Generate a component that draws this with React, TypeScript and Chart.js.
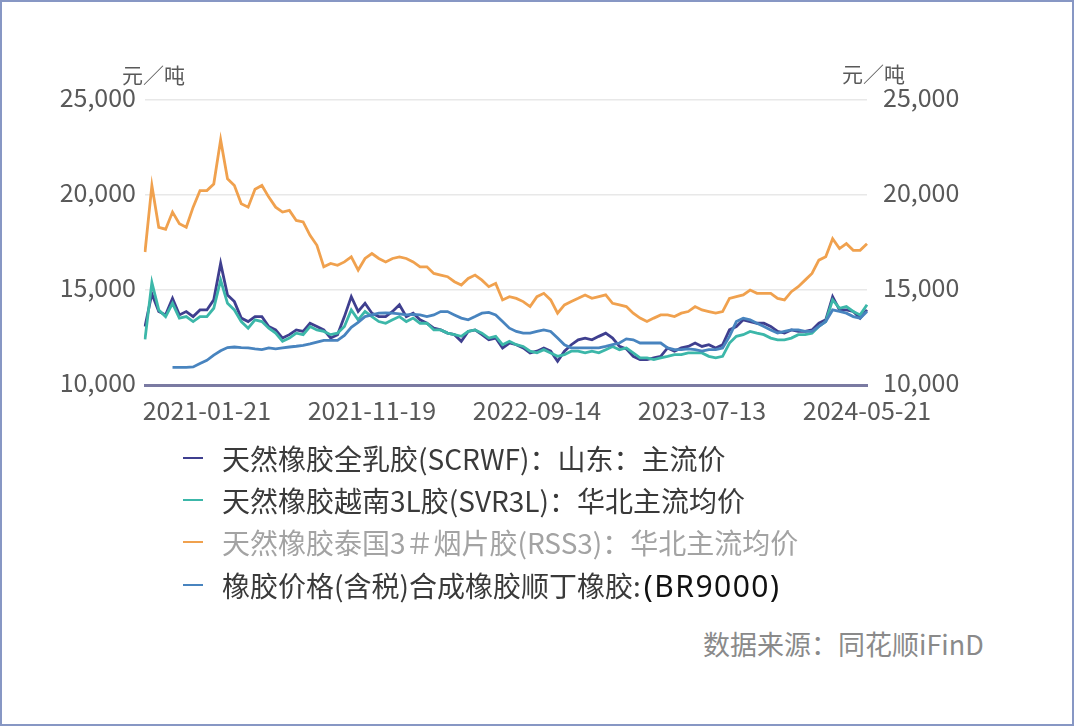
import React, { useEffect, useRef } from "react";
import { Chart, registerables } from "chart.js";

Chart.register(...registerables);

const tickLabels = ["2021-01-21", "2021-11-19", "2022-09-14", "2023-07-13", "2024-05-21"];
const tickIndex = [9, 33, 57, 81, 105];
const POINTS = 106;

const scrwf = [
  13080, 14800, 13870, 13690, 14560, 13690, 13865, 13600, 13950, 13950,
  14480, 16400, 14740, 14390, 13520, 13340, 13600, 13600, 13080, 12900,
  12470, 12650, 12900, 12820, 13250, 13080, 12900, 12470, 12650, 13600,
  14650, 13870, 14300, 13780, 13600, 13600, 13870, 14220, 13600, 13780,
  13430, 13250, 12990, 12900, 12730, 12650, 12300, 12820, 12900, 12650,
  12380, 12470, 11950, 12210, 12120, 11950, 11690, 11780, 11950, 11780,
  11250, 11780, 12120, 12380, 12470, 12380, 12560, 12730, 12470, 12030,
  11900, 11510, 11340, 11340, 11430, 11510, 11950, 11780, 11950, 12030,
  12210, 12030, 12120, 11950, 12120, 12900, 13080, 13430, 13340, 13250,
  13250, 13080, 12820, 12730, 12900, 12820, 12820, 12900, 13250, 13430,
  14650, 13950, 13950, 13870, 13520, 13950,
];

const svr3l = [
  12400, 15400, 13950, 13600, 14300, 13520, 13600, 13340, 13600, 13600,
  14040, 15520, 14300, 13950, 13340, 12990, 13430, 13340, 12990, 12730,
  12300, 12470, 12730, 12650, 13080, 12900, 12820, 12650, 12730, 13080,
  13950, 13430, 13870, 13600, 13340, 13250, 13430, 13600, 13340, 13520,
  13250, 13250, 12900, 12900, 12730, 12650, 12560, 12820, 12900, 12730,
  12470, 12560, 12120, 12300, 12120, 12030, 11780, 11690, 11860, 11690,
  11510, 11600, 11780, 11780, 11690, 11780, 11690, 11860, 12030, 11860,
  11950, 11690, 11430, 11430, 11340, 11430, 11510, 11600, 11600, 11690,
  11690, 11690, 11510, 11430, 11510, 12210, 12560, 12650, 12820, 12730,
  12650, 12470, 12380, 12380, 12470, 12650, 12650, 12730, 13080, 13340,
  14480, 14040, 14130, 13870, 13690, 14220,
];

const rss3 = [
  17000, 20500, 18300, 18200, 19100, 18490, 18300, 19360, 20235, 20235,
  20580, 22900, 20850, 20500, 19540, 19360, 20300, 20500, 19890, 19360,
  19100, 19190, 18660, 18580, 17880, 17355, 16220, 16400, 16300, 16480,
  16745, 16050, 16660, 16920, 16660, 16480, 16660, 16745, 16660, 16480,
  16220, 16220, 15870, 15785, 15700, 15436, 15260, 15610, 15785, 15520,
  15175, 15350, 14476, 14650, 14560, 14390, 14130, 14650, 14825, 14476,
  13780, 14215, 14390, 14560, 14740, 14560, 14650, 14740, 14300, 14215,
  14130, 13780, 13520, 13340, 13520, 13690, 13690, 13600, 13780, 13865,
  14130, 13950, 13865, 13780, 13865, 14560, 14650, 14740, 15000, 14825,
  14825, 14825, 14560, 14476, 14910, 15175, 15520, 15870, 16570, 16745,
  17700, 17180, 17440, 17090, 17090, 17440,
];

const br9000 = [
  null, null, null, null, 10930, 10930, 10930, 10950, 11130, 11300,
  11570, 11800, 11970, 12000, 11970, 11950, 11900, 11860, 11950, 11900,
  11950, 12000, 12040, 12090, 12170, 12260, 12350, 12350, 12350, 12610,
  13040, 13300, 13600, 13690, 13780, 13800, 13780, 13740, 13690, 13720,
  13690, 13600, 13690, 13865, 13865, 13690, 13520, 13430, 13600, 13780,
  13820, 13690, 13340, 12990, 12820, 12730, 12730, 12820, 12900, 12820,
  12470, 12120, 11950, 11950, 11950, 11950, 11950, 12030, 12120, 12210,
  12430, 12380, 12210, 12210, 12210, 12210, 11950, 11860, 11860, 11900,
  11860, 11780, 11860, 11860, 11950, 12560, 13340, 13520, 13430, 13250,
  13080, 12900, 12730, 12820, 12900, 12900, 12820, 12820, 13080, 13340,
  13950, 13870, 13780, 13600, 13520, 13870,
];

const seriesNames = [
  "天然橡胶全乳胶(SCRWF)：山东：主流价",
  "天然橡胶越南3L胶(SVR3L)：华北主流均价",
  "天然橡胶泰国3＃烟片胶(RSS3)：华北主流均价",
  "橡胶价格(含税)合成橡胶顺丁橡胶:",
];
const seriesColors = ["#3f3f8f", "#3cb7a9", "#f0a14e", "#4884bf"];

const FONT = "'Noto Sans CJK SC', 'Noto Sans', sans-serif";

export default function App() {
  const ref = useRef<HTMLCanvasElement | null>(null);

  useEffect(() => {
    document.body.style.margin = "0";
    const labels = Array.from({ length: POINTS }, (_, i) => {
      const k = tickIndex.indexOf(i);
      return k >= 0 ? tickLabels[k] : "";
    });
    const chart = new Chart(ref.current as HTMLCanvasElement, {
      type: "line",
      data: {
        labels,
        datasets: [
          { label: seriesNames[0], data: scrwf, borderColor: seriesColors[0], order: 2 },
          { label: seriesNames[1], data: svr3l, borderColor: seriesColors[1], order: 1 },
          { label: seriesNames[2], data: rss3, borderColor: seriesColors[2], order: 3 },
          { label: seriesNames[3], data: br9000 as any, borderColor: seriesColors[3], order: 0 },
        ].map((d) => ({ ...d, borderWidth: 2.8, pointRadius: 0, tension: 0, fill: false, spanGaps: false })),
      },
      options: {
        animation: false,
        responsive: false,
        devicePixelRatio: 1,
        layout: { padding: { top: 100, left: 0, right: 0, bottom: 0 } },
        plugins: { legend: { display: false }, tooltip: { enabled: false } },
        scales: {
          x: {
            type: "category",
            offset: false,
            grid: { display: false, drawTicks: false },
            border: { display: true, color: "#7a7aa2", width: 3 },
            ticks: {
              autoSkip: false,
              maxRotation: 0,
              padding: 10,
              color: "#595959",
              font: { family: FONT, size: 25 },
              callback: (_v: any, i: number) => labels[i],
            },
            afterFit: (s: any) => { s.height = 55; },
          },
          y: {
            position: "left",
            min: 10000,
            max: 25000,
            grid: { color: "#e8e8e8", lineWidth: 1.5, drawTicks: false },
            border: { display: false },
            ticks: {
              stepSize: 5000,
              padding: 9,
              labelOffset: -3,
              color: "#595959",
              font: { family: FONT, size: 25 },
              callback: (v: any) => Number(v).toLocaleString("en-US"),
            },
            afterFit: (s: any) => { s.width = 145; },
          },
          y2: {
            position: "right",
            min: 10000,
            max: 25000,
            grid: { display: false, drawTicks: false },
            border: { display: false },
            ticks: {
              stepSize: 5000,
              padding: 16,
              labelOffset: -3,
              color: "#595959",
              font: { family: FONT, size: 25 },
              callback: (v: any) => Number(v).toLocaleString("en-US"),
            },
            afterFit: (s: any) => { s.width = 133; },
          },
        },
      },
    });
    return () => chart.destroy();
  }, []);

  const rowTops = [458, 500, 542, 585];
  const textColors = ["#3a3a3a", "#3a3a3a", "#a3a3a3", "#3a3a3a"];

  return (
    <div
      style={{
        position: "relative",
        width: 1074,
        height: 726,
        boxSizing: "border-box",
        border: "2px solid #8797c4",
        background: "#ffffff",
        fontFamily: FONT,
        overflow: "hidden",
      }}
    >
      <canvas ref={ref} width={1000} height={440} style={{ position: "absolute", left: -2, top: -2 }} />
      <div style={{ position: "absolute", left: 120, top: 57, fontSize: 21, color: "#595959" }}>元／吨</div>
      <div style={{ position: "absolute", left: 840, top: 56, fontSize: 21, color: "#595959" }}>元／吨</div>
      {seriesNames.map((name, i) => (
        <div
          key={i}
          style={{
            position: "absolute",
            left: 181,
            top: rowTops[i] - 2 - 20,
            height: 40,
            display: "flex",
            alignItems: "center",
            whiteSpace: "nowrap",
          }}
        >
          <span style={{ display: "inline-block", width: 20, height: 2.5, background: seriesColors[i], marginRight: 19 }} />
          <span style={{ fontSize: 28, color: textColors[i] }}>{name}</span>
          {i === 3 ? (
            <span style={{ fontSize: 30, color: "#111", fontFamily: "'Noto Sans', sans-serif", marginLeft: 3, letterSpacing: 1.5 }}>
              (BR9000)
            </span>
          ) : null}
        </div>
      ))}
      <div style={{ position: "absolute", left: 701, top: 622, fontSize: 27, color: "#8a8a8a", whiteSpace: "nowrap" }}>
        数据来源：同花顺iFinD
      </div>
    </div>
  );
}
